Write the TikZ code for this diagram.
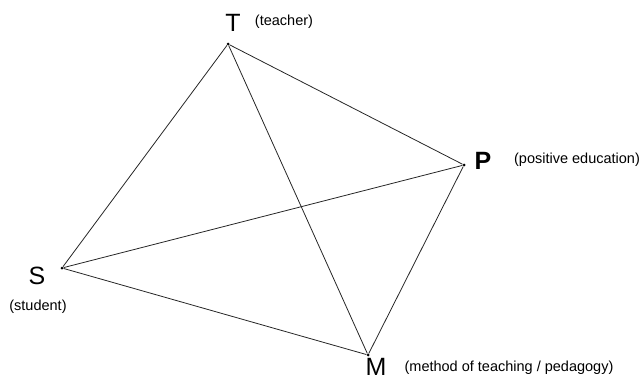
\documentclass[tikz,border=0pt]{standalone}
\usepackage{fontspec}
\setmainfont{Liberation Sans}
\begin{document}
\begin{tikzpicture}[x=1pt,y=-1pt,
  vtx/.style={circle,fill=black,inner sep=0pt,minimum size=3pt},
  big/.style={font=\fontsize{25}{25}\selectfont,inner sep=0pt},
  small/.style={font=\fontsize{14.5}{14.5}\selectfont,inner sep=0pt},
  edge/.style={draw=black!85,line width=0.8pt}]
\useasboundingbox (0,0) rectangle (643,380);
\node[vtx] (T) at (228,44) {};
\node[vtx] (P) at (464,165) {};
\node[vtx] (S) at (62,268) {};
\node[vtx] (M) at (368,355) {};
\draw[edge] (T) -- (P) -- (M) -- (S) -- (T);
\draw[edge] (T) -- (M);
\draw[edge] (S) -- (P);
\node[big] (tT) at (233,23) {T};
\node[small] (lT) at (284,22) {(teacher)};
\node[big,font=\fontsize{25}{25}\selectfont\bfseries] (tP) at (483,161) {P};
\node[small] (lP) at (577,160) {(positive education)};
\node[big] (tS) at (37,276) {S};
\node[small] (lS) at (38,307) {(student)};
\node[big] (tM) at (376,367) {M};
\node[small] (lM) at (509,368) {(method of teaching / pedagogy)};
\end{tikzpicture}
\end{document}
